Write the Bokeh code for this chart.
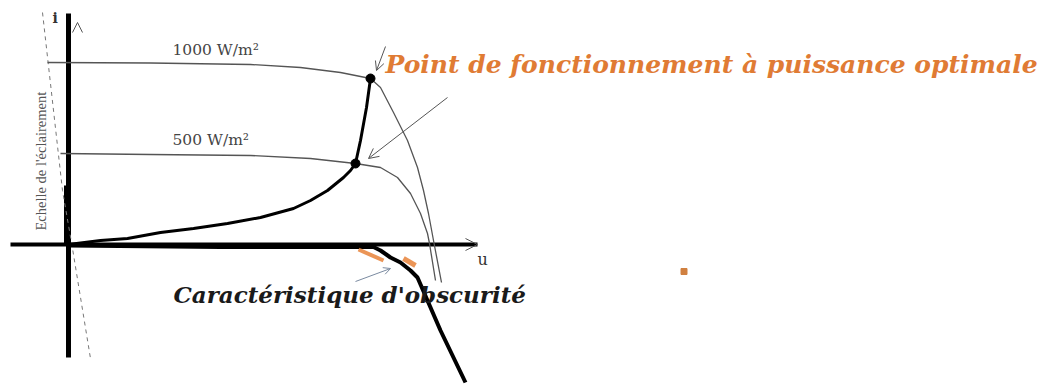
import math
from bokeh.plotting import figure
from bokeh.models import Range1d, Label, Arrow, OpenHead
from bokeh.embed import file_html
from bokeh.resources import INLINE

# I-V characteristics of a photovoltaic cell (u and i in arbitrary units)
u_1000 = [-0.21, 0.82, 1.82, 2.32, 2.72, 3.02, 3.12, 3.25, 3.39, 3.49, 3.55, 3.60, 3.65, 3.73]
i_1000 = [1.82, 1.815, 1.80, 1.77, 1.72, 1.66, 1.57, 1.32, 1.04, 0.77, 0.54, 0.31, 0.04, -0.38]

u_500 = [-0.08, 0.82, 1.82, 2.42, 2.87, 3.12, 3.29, 3.42, 3.52, 3.59, 3.61, 3.67]
i_500 = [0.91, 0.90, 0.89, 0.86, 0.81, 0.77, 0.67, 0.51, 0.31, 0.11, 0.01, -0.36]

# locus of the maximum power points
u_mpp_locus = [0.0, 0.32, 0.59, 0.92, 1.25, 1.59, 1.92, 2.25, 2.42, 2.59, 2.75, 2.82,
               2.87, 2.92, 2.98, 3.02]
i_mpp_locus = [0.0, 0.04, 0.06, 0.12, 0.16, 0.21, 0.27, 0.36, 0.44, 0.54, 0.67, 0.74,
               0.81, 1.04, 1.37, 1.66]

# optimal operating points
u_mpp = [3.02, 2.87]
i_mpp = [1.66, 0.81]

# dark characteristic
u_dark = [0.0, 1.52, 3.05, 3.12, 3.22, 3.32, 3.42, 3.49, 3.72, 3.97]
i_dark = [-0.01, -0.025, -0.025, -0.06, -0.13, -0.18, -0.26, -0.33, -0.86, -1.38]

# illumination scale (dashed)
u_scale = [-0.26, -0.06, 0.04, 0.22]
i_scale = [2.32, 0.54, -0.04, -1.14]

irradiance_labels = ["1000 W/m²", "500 W/m²"]

p = figure(width=1045, height=385, output_backend="svg", toolbar_location=None,
           x_range=Range1d(-0.68, 9.77), y_range=Range1d(-1.41, 2.44),
           min_border=0, min_border_left=0, min_border_right=0,
           min_border_top=0, min_border_bottom=0)
p.xaxis.visible = False
p.yaxis.visible = False
p.xgrid.visible = False
p.ygrid.visible = False
p.outline_line_color = None
p.background_fill_color = "white"
p.border_fill_color = "white"

# drawn axes
p.line([-0.58, 4.09], [0, 0], line_color="black", line_width=4)
p.line([0, 0], [2.31, -1.13], line_color="black", line_width=5)
p.line([-0.03, -0.03], [0.59, 0.0], line_color="black", line_width=3)
p.add_layout(Arrow(end=OpenHead(size=12, line_width=1, line_color="#555555"),
                   x_start=3.95, y_start=0.0, x_end=4.09, y_end=0.0, line_alpha=0))
p.add_layout(Arrow(end=OpenHead(size=10, line_width=1, line_color="#555555"),
                   x_start=0.09, y_start=2.0, x_end=0.09, y_end=2.22, line_alpha=0))

# illumination scale
p.line(u_scale, i_scale, line_color="#777777", line_width=1, line_dash="4 4")

# irradiance curves
p.line(u_1000, i_1000, line_color="#555555", line_width=1.3)
p.line(u_500, i_500, line_color="#555555", line_width=1.3)

# dark characteristic and orange touch marks
p.line(u_dark, i_dark, line_color="black", line_width=4)
p.line([2.90, 3.15], [-0.05, -0.16], line_color="#e8833a", line_width=4, line_alpha=0.85)
p.line([3.35, 3.47], [-0.14, -0.21], line_color="#e8833a", line_width=5, line_alpha=0.85)

# maximum power locus
p.line(u_mpp_locus, i_mpp_locus, line_color="black", line_width=3)
p.scatter(u_mpp, i_mpp, size=9, color="black")

# pointer arrows
p.add_layout(Arrow(end=OpenHead(size=9, line_width=1, line_color="#555555"),
                   x_start=3.17, y_start=1.98, x_end=3.08, y_end=1.74,
                   line_color="#555555", line_width=1))
p.add_layout(Arrow(end=OpenHead(size=10, line_width=1, line_color="#555555"),
                   x_start=3.79, y_start=1.47, x_end=3.0, y_end=0.86,
                   line_color="#555555", line_width=1))
p.add_layout(Arrow(end=OpenHead(size=7, line_width=1, line_color="#7a8aa0"),
                   x_start=2.87, y_start=-0.37, x_end=3.22, y_end=-0.24,
                   line_color="#7a8aa0", line_width=1))

# small orange square
p.scatter([6.155], [-0.27], marker="square", size=6, color="#d08040")

# texts
p.add_layout(Label(x=1.04, y=1.86, text=irradiance_labels[0], text_font="DejaVu Serif",
                   text_font_size="15.5px", text_color="#444444"))
p.add_layout(Label(x=1.04, y=0.96, text=irradiance_labels[1], text_font="DejaVu Serif",
                   text_font_size="15.5px", text_color="#444444"))
p.add_layout(Label(x=3.17, y=1.66, text="Point de fonctionnement à puissance optimale",
                   text_font="DejaVu Serif", text_font_style="bold italic",
                   text_font_size="25px", text_color="#e07b34"))
p.add_layout(Label(x=1.05, y=-0.63, text="Caractéristique d'obscurité",
                   text_font="DejaVu Serif", text_font_style="bold italic",
                   text_font_size="23px", text_color="#1a1a1a"))
p.add_layout(Label(x=4.09, y=-0.24, text="u", text_font="DejaVu Serif",
                   text_font_size="16px", text_color="#333333"))
p.add_layout(Label(x=-0.16, y=2.19, text="i", text_font="DejaVu Serif",
                   text_font_style="bold", text_font_size="14px", text_color="#333333"))
p.add_layout(Label(x=-0.28, y=0.14, text="Echelle de l'éclairement", angle=math.pi / 2,
                   text_font="Liberation Serif", text_font_size="14.5px",
                   text_color="#555555", text_baseline="middle"))

open("out.html", "w").write(file_html(p, INLINE))
